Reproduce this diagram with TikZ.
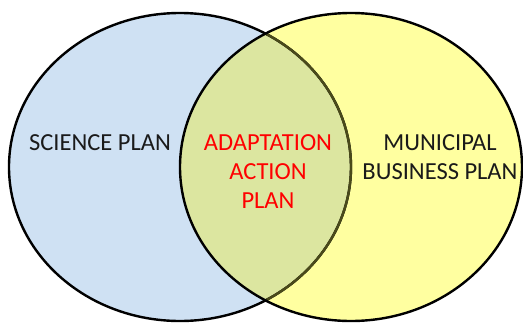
\documentclass[tikz,border=0pt]{standalone}
\usepackage{fontspec}
\setmainfont{Carlito}
\usetikzlibrary{positioning}

\definecolor{scienceblue}{HTML}{CFE1F3}
\definecolor{businessyellow}{HTML}{FFFFA0}
\definecolor{overlapgreen}{HTML}{DCE6A0}
\definecolor{darkolive}{HTML}{4A4A1A}
\definecolor{textgray}{HTML}{1A1A1A}

\begin{document}
\begin{tikzpicture}[x=1pt, y=-1pt,
        plan/.style={line width=2.4pt, draw=black},
        label/.style={font=\fontsize{24.5}{29}\selectfont, align=center, text=textgray, inner sep=0pt},
    ]

    \def \rx {171};
    \def \ry {154};

    \useasboundingbox (0,0) rectangle (523,327);

    % Centres of the two plans
    \coordinate (SC) at (180,167);
    \coordinate (MB) at (351,167);

    % Fills
    \fill[scienceblue] (SC) ellipse [x radius=\rx, y radius=\ry];
    \fill[businessyellow] (MB) ellipse [x radius=\rx, y radius=\ry];
    \begin{scope}
        \clip (SC) ellipse [x radius=\rx, y radius=\ry];
        \fill[overlapgreen] (MB) ellipse [x radius=\rx, y radius=\ry];
    \end{scope}

    % Outlines
    \draw[plan] (SC) ellipse [x radius=\rx, y radius=\ry];
    \begin{scope}
        \clip (MB) ellipse [x radius=\rx, y radius=\ry];
        \draw[plan, draw=darkolive] (SC) ellipse [x radius=\rx, y radius=\ry];
    \end{scope}
    \draw[plan] (MB) ellipse [x radius=\rx, y radius=\ry];

    % Labels
    \node[label] (science) at (100,143) {SCIENCE PLAN};
    \node[label, text=red] (adaptation) at (268,172) {ADAPTATION\\ACTION\\PLAN};
    \node[label] (municipal) at (440,157) {MUNICIPAL\\BUSINESS PLAN};
\end{tikzpicture}
\end{document}
